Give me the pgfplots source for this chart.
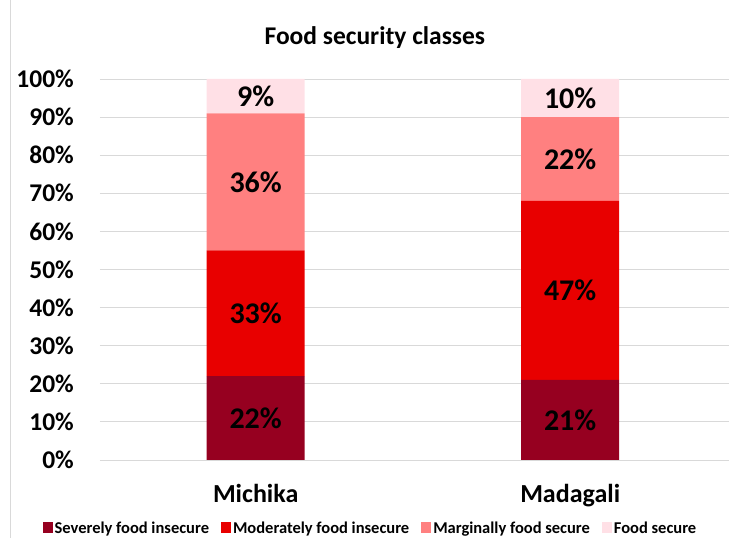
\documentclass[border=0pt]{standalone}
\usepackage{fontspec}
\setmainfont{Carlito}
\usepackage{pgfplots}
\pgfplotsset{compat=1.18}

\definecolor{sev}{RGB}{150,0,32}
\definecolor{mod}{RGB}{232,0,0}
\definecolor{mar}{RGB}{255,128,128}
\definecolor{fsec}{RGB}{255,224,230}
\definecolor{gridc}{RGB}{217,217,217}

\begin{document}
\begin{tikzpicture}[x=1pt,y=1pt]
\useasboundingbox (0,0) rectangle (729,538);
% left edge of the chart frame
\draw[gridc, line width=1pt] (10.5,0) -- (10.5,538);
\begin{axis}[
    at={(100pt,78pt)}, anchor=south west,
    scale only axis, width=629pt, height=381pt,
    ybar stacked, bar width=98pt,
    xmin=-0.495, xmax=1.505,
    ymin=0, ymax=100, ytick={0,10,...,100},
    xtick={0,1}, xticklabels={Michika,Madagali},
    ymajorgrids, grid style={gridc, line width=0.9pt},
    axis line style={draw=none}, major tick length=0pt,
    /pgf/number format/assume math mode=true,
    yticklabel={\pgfmathprintnumber{\tick}\%},
    yticklabel style={font=\bfseries\fontsize{25.5}{28}\selectfont, anchor=east, inner sep=0pt, xshift=-26pt},
    xticklabel style={font=\bfseries\fontsize{26}{28}\selectfont, anchor=base, inner sep=0pt, yshift=-43pt},
    title={Food security classes},
    title style={font=\bfseries\fontsize{25.5}{28}\selectfont, at={(0.437,1.076)}, anchor=base, inner sep=0pt},
    visualization depends on=rawy \as \rawy,
    nodes near coords={\pgfmathprintnumber{\rawy}\%},
    every node near coord/.append style={font=\bfseries\fontsize{30}{32}\selectfont, anchor=center},
    legend style={at={(0.43,-0.18)}, anchor=center, draw=none, legend columns=4,
        font=\bfseries\fontsize{16.5}{18}\selectfont,
        /tikz/every even column/.append style={column sep=10pt}},
    legend image code/.code={\fill[#1] (0pt,-4pt) rectangle (10pt,7pt);},
]
\addplot[draw=none, fill=sev] coordinates {(0,22) (1,21)};
\addplot[draw=none, fill=mod] coordinates {(0,33) (1,47)};
\addplot[draw=none, fill=mar] coordinates {(0,36) (1,22)};
\addplot[draw=none, fill=fsec] coordinates {(0,9) (1,10)};
\legend{Severely food insecure, Moderately food insecure, Marginally food secure, Food secure}
\end{axis}
\end{tikzpicture}
\end{document}
